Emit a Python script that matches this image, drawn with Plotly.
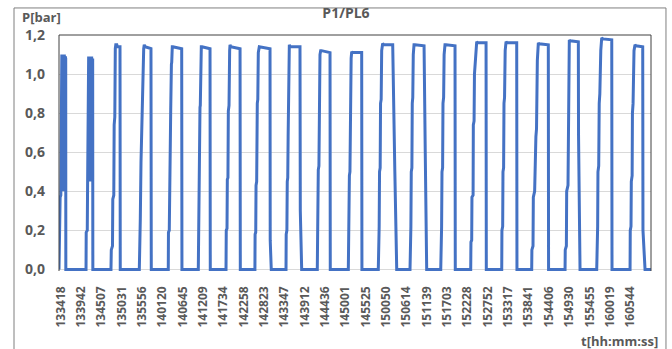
import plotly.graph_objects as go

# ---------------- data ----------------
# x tick labels (hhmmss) as printed under the axis
x_labels = ["133418", "133942", "134507", "135031", "135556", "140120", "140645",
            "141209", "141734", "142258", "142823", "143347", "143912", "144436",
            "145001", "145525", "150050", "150614", "151139", "151703", "152228",
            "152752", "153317", "153841", "154406", "154930", "155455", "160019",
            "160544"]

# pressure trace P1/PL6: time in seconds after 13:34:18, pressure in bar
t_sec = [
    -27, -24, -12, -9, 2, 5, 14, 18, 24, 30, 37, 44, 51, 58, 65, 72, 80, 82,
    404, 407, 424, 429, 436, 446, 454, 462, 470, 478, 486, 494, 502, 510, 513,
    802, 807, 826, 831, 847, 853, 863, 871, 879, 895, 903, 946, 950,
    1254, 1260, 1270, 1281, 1297, 1305, 1313, 1324, 1333, 1345, 1440, 1445,
    1716, 1719, 1732, 1737, 1744, 1750, 1755, 1766, 1771, 1780, 1790, 1930, 1934,
    2195, 2199, 2206, 2211, 2216, 2222, 2227, 2233, 2238, 2243, 2255, 2382, 2386,
    2637, 2641, 2653, 2658, 2668, 2674, 2685, 2695, 2701, 2712, 2861, 2865,
    3098, 3101, 3111, 3116, 3126, 3136, 3144, 3152, 3168, 3339, 3342, 3359,
    3594, 3597, 3608, 3614, 3622, 3628, 3634, 3640, 3647, 3660, 3817, 3822, 3844,
    4093, 4096, 4104, 4109, 4119, 4125, 4131, 4136, 4147, 4160, 4296, 4300,
    4588, 4591, 4600, 4605, 4614, 4619, 4628, 4633, 4642, 4655, 4801, 4805,
    5066, 5069, 5080, 5086, 5096, 5102, 5112, 5120, 5136, 5150, 5296, 5330, 5360,
    5572, 5575, 5586, 5592, 5602, 5608, 5616, 5624, 5636, 5650, 5796, 5815, 5838,
    6062, 6065, 6076, 6082, 6092, 6098, 6108, 6116, 6130, 6145, 6290, 6294,
    6540, 6544, 6556, 6560, 6578, 6582, 6594, 6600, 6620, 6636, 6650, 6785, 6789,
    7035, 7038, 7050, 7055, 7065, 7071, 7080, 7090, 7104, 7120, 7274, 7278,
    7513, 7516, 7534, 7539, 7560, 7580, 7590, 7603, 7619, 7630, 7778, 7782,
    8045, 8048, 8066, 8071, 8092, 8097, 8105, 8113, 8125, 8257, 8260, 8284,
    8550, 8553, 8565, 8570, 8582, 8590, 8600, 8615, 8630, 8650, 8790, 8794,
    9082, 9085, 9097, 9102, 9115, 9120, 9130, 9145, 9161, 9175, 9284, 9288, 9321, 9416,
]
p_bar = [
    0.00, 0.14, 0.14, 0.37, 0.38, 0.75, 0.78, 1.10, 0.40, 1.10, 0.40, 1.10, 0.40, 1.10, 0.42, 1.09, 1.08, 0.00,
    0.00, 0.19, 0.20, 0.43, 0.86, 1.09, 0.45, 1.09, 0.45, 1.09, 0.45, 1.09, 0.50, 1.08, 0.00,
    0.00, 0.10, 0.12, 0.36, 0.38, 0.74, 0.78, 1.13, 1.15, 1.15, 1.14, 1.14, 0.00,
    0.00, 0.06, 0.26, 0.55, 0.80, 0.98, 1.00, 1.13, 1.15, 1.14, 1.13, 0.00,
    0.00, 0.19, 0.20, 0.40, 0.42, 0.80, 0.82, 1.05, 1.06, 1.14, 1.14, 1.13, 0.00,
    0.00, 0.20, 0.21, 0.46, 0.47, 0.83, 0.84, 1.00, 1.02, 1.14, 1.14, 1.13, 0.00,
    0.00, 0.20, 0.21, 0.46, 0.47, 0.81, 0.84, 1.12, 1.15, 1.14, 1.13, 0.00,
    0.00, 0.18, 0.19, 0.43, 0.45, 0.85, 0.87, 1.11, 1.14, 1.13, 0.15, 0.00,
    0.00, 0.18, 0.20, 0.45, 0.47, 0.68, 0.90, 0.95, 1.15, 1.14, 1.14, 0.30, 0.00,
    0.00, 0.20, 0.22, 0.51, 0.53, 0.86, 0.88, 1.10, 1.12, 1.12, 1.11, 0.00,
    0.00, 0.20, 0.22, 0.48, 0.50, 0.84, 0.86, 1.08, 1.115, 1.11, 1.11, 0.00,
    0.00, 0.20, 0.22, 0.50, 0.52, 0.85, 0.87, 1.12, 1.157, 1.15, 1.15, 0.50, 0.00,
    0.00, 0.20, 0.22, 0.50, 0.52, 0.85, 0.88, 1.10, 1.15, 1.15, 1.145, 0.60, 0.00,
    0.00, 0.20, 0.22, 0.50, 0.52, 0.85, 0.88, 1.10, 1.15, 1.15, 1.145, 0.00,
    0.00, 0.14, 0.15, 0.37, 0.38, 0.74, 0.76, 1.00, 1.13, 1.166, 1.16, 1.16, 0.00,
    0.00, 0.20, 0.22, 0.50, 0.52, 0.85, 0.88, 1.12, 1.166, 1.16, 1.16, 0.00,
    0.00, 0.10, 0.12, 0.37, 0.40, 0.68, 0.72, 1.07, 1.16, 1.155, 1.15, 0.00,
    0.00, 0.10, 0.12, 0.40, 0.43, 0.76, 0.80, 1.174, 1.17, 1.165, 0.69, 0.00,
    0.00, 0.20, 0.22, 0.50, 0.53, 0.85, 0.90, 1.12, 1.185, 1.18, 1.175, 0.00,
    0.00, 0.20, 0.22, 0.45, 0.48, 0.80, 0.85, 1.12, 1.15, 1.145, 1.14, 0.20, 0.00, 0.00,
]

y_ticks = [0.0, 0.2, 0.4, 0.6, 0.8, 1.0, 1.2]


def hms_to_sec(s):
    return int(s[0:2]) * 3600 + int(s[2:4]) * 60 + int(s[4:6])


t0 = hms_to_sec(x_labels[0])
x_tickvals = [hms_to_sec(s) - t0 for s in x_labels]

# ---------------- figure ----------------
GRAY = "#595959"
FONT = "Open Sans"

fig = go.Figure()
fig.add_trace(go.Scatter(
    x=t_sec, y=p_bar, mode="lines",
    line=dict(color="#4472C4", width=3),
    hoverinfo="skip", showlegend=False,
))

fig.update_layout(
    width=672, height=349,
    margin=dict(l=59, r=21, t=35, b=78),
    paper_bgcolor="white", plot_bgcolor="white",
    separators=", ",
    font=dict(family=FONT, color=GRAY, size=12),
    title=dict(text="P1/PL6", x=346 / 672, xref="container", xanchor="center",
               y=1 - 13.5 / 349, yref="container", yanchor="middle",
               font=dict(family=FONT, size=14, color=GRAY, weight="bold")),
    showlegend=False,
)

fig.update_xaxes(
    range=[-27, 9416],
    tickvals=x_tickvals, ticktext=x_labels, tickangle=-90,
    tickfont=dict(family=FONT, size=12, color=GRAY, weight="bold"),
    showgrid=False, zeroline=False, showline=False, ticks="",
    ticklabelstandoff=12,
)
fig.update_yaxes(
    range=[-0.008, 1.2],
    tickvals=y_ticks, tickformat=".1f",
    tickfont=dict(family=FONT, size=14, color=GRAY, weight="bold"),
    showgrid=True, gridcolor="#D9D9D9", gridwidth=1,
    zeroline=False, showline=False, ticks="",
    ticklabelstandoff=13,
)

# plot-area frame (top, left, right)
for x0, y0, x1, y1 in [(0, 1, 1, 1), (0, 0, 0, 1), (1, 0, 1, 1)]:
    fig.add_shape(type="line", xref="paper", yref="paper",
                  x0=x0, y0=y0, x1=x1, y1=y1,
                  line=dict(color="#404040", width=1), layer="above")

# outer chart frame
fig.add_shape(type="rect", xref="paper", yref="paper",
              x0=-0.076, x1=1.0253, y0=-0.40, y1=1.1146,
              line=dict(color="#7F7F7F", width=1), layer="below")

fig.add_annotation(text="P[bar]", xref="paper", yref="paper",
                   x=-0.0659, y=1.0764, xanchor="left", yanchor="middle",
                   showarrow=False,
                   font=dict(family=FONT, size=13, color=GRAY, weight="bold"))
fig.add_annotation(text="t[hh:mm:ss]", xref="paper", yref="paper",
                   x=1.0152, y=-0.2946, xanchor="right", yanchor="middle",
                   showarrow=False,
                   font=dict(family=FONT, size=13, color=GRAY, weight="bold"))

fig.write_html("out.html",
               config={"displayModeBar": False},
               post_script="document.body.style.margin='0';document.body.style.overflow='hidden';")
